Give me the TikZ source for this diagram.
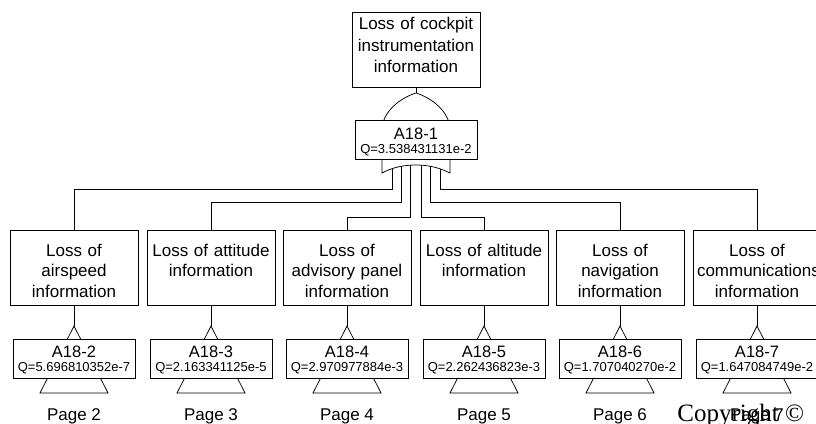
\documentclass[tikz,border=0pt]{standalone}
\usepackage{fontspec}
\setmainfont{Liberation Sans}
\newfontfamily\copyfont{Liberation Serif}
\usetikzlibrary{calc}

\begin{document}
\begin{tikzpicture}[x=1pt,y=-1pt,line width=0.75pt,
	ereignis/.style={draw, fill=white, text width=120pt, align=center, minimum width=128pt, minimum height=75pt, inner xsep=4pt, inner ysep=3pt, text height=23pt, text depth=46pt, font=\fontsize{17}{20.5}\selectfont},
	gatter/.style={draw, fill=white, text width=118pt, align=center, minimum width=122pt, minimum height=39pt, inner xsep=2pt, inner ysep=3pt, text height=15.5pt, text depth=17.5pt, font=\fontsize{13}{14}\selectfont},
	seite/.style={anchor=base, font=\fontsize{17}{20}\selectfont}] % E Ereignis, T Transfer
	\useasboundingbox (0,0) rectangle (816,423);
	\clip (0,0) rectangle (816,423);
	\node[ereignis, text height=14pt, text depth=55pt, font=\fontsize{17}{21.5}\selectfont] (E1) at (416,50) {Loss of cockpit\\instrumentation\\information};
	\node[ereignis] (E2) at (74,267.5) {Loss of\\airspeed\\information};
	\node[ereignis] (E3) at (211,267.5) {Loss of attitude\\information};
	\node[ereignis] (E4) at (347,267.5) {Loss of\\advisory panel\\information};
	\node[ereignis] (E5) at (484,267.5) {Loss of altitude\\information};
	\node[ereignis] (E6) at (620,267.5) {Loss of\\navigation\\information};
	\node[ereignis] (E7) at (757,267.5) {Loss of\\communications\\information};
	\coordinate (I1) at (392,160);
	\coordinate (I2) at (401,160);
	\coordinate (I3) at (410,160);
	\coordinate (I4) at (421,160);
	\coordinate (I5) at (430,160);
	\coordinate (I6) at (440,160);
	\draw (I1) -- ++(0,29) -| (E2.north);
	\draw (I2) -- ++(0,42) -| (E3.north);
	\draw (I3) -- ++(0,57) -| (E4.north);
	\draw (I4) -- ++(0,57) -| (E5.north);
	\draw (I5) -- ++(0,42) -| (E6.north);
	\draw (I6) -- ++(0,29) -| (E7.north);
	% Oder-Gatter
	\coordinate (G1top) at (416,93);
	\draw[fill=white] (G1top) .. controls (432,98) and (450,112) .. (450,130) -- (450,173) .. controls (438,167) and (427,165) .. (416,165) .. controls (405,165) and (393,167) .. (382,173) -- (382,130) .. controls (382,112) and (400,98) .. (G1top) -- cycle;
	\draw (E1.south) -- (G1top);
	\node[gatter, minimum width=120pt] (G1) at (416,140) {{\fontsize{16.5}{14}\selectfont A18-1}\\Q=3.538431131e-2};
	
	\coordinate (P2) at (74,326);
	\draw[fill=white] (P2) -- ++(-34,67) -- ++(68,0) -- cycle;
	\node[gatter] (T2) at (74,358.8) {{\fontsize{16.5}{14}\selectfont A18-2}\\Q=5.696810352e-7};
	\draw (E2.south) -- (P2);
	\node[seite] (S2) at (74,420) {Page 2};
	\coordinate (P3) at (211,326);
	\draw[fill=white] (P3) -- ++(-34,67) -- ++(68,0) -- cycle;
	\node[gatter] (T3) at (211,358.8) {{\fontsize{16.5}{14}\selectfont A18-3}\\Q=2.163341125e-5};
	\draw (E3.south) -- (P3);
	\node[seite] (S3) at (211,420) {Page 3};
	\coordinate (P4) at (347,326);
	\draw[fill=white] (P4) -- ++(-34,67) -- ++(68,0) -- cycle;
	\node[gatter] (T4) at (347,358.8) {{\fontsize{16.5}{14}\selectfont A18-4}\\Q=2.970977884e-3};
	\draw (E4.south) -- (P4);
	\node[seite] (S4) at (347,420) {Page 4};
	\coordinate (P5) at (484,326);
	\draw[fill=white] (P5) -- ++(-34,67) -- ++(68,0) -- cycle;
	\node[gatter] (T5) at (484,358.8) {{\fontsize{16.5}{14}\selectfont A18-5}\\Q=2.262436823e-3};
	\draw (E5.south) -- (P5);
	\node[seite] (S5) at (484,420) {Page 5};
	\coordinate (P6) at (620,326);
	\draw[fill=white] (P6) -- ++(-34,67) -- ++(68,0) -- cycle;
	\node[gatter] (T6) at (620,358.8) {{\fontsize{16.5}{14}\selectfont A18-6}\\Q=1.707040270e-2};
	\draw (E6.south) -- (P6);
	\node[seite] (S6) at (620,420) {Page 6};
	\coordinate (P7) at (757,326);
	\draw[fill=white] (P7) -- ++(-34,67) -- ++(68,0) -- cycle;
	\node[gatter] (T7) at (757,358.8) {{\fontsize{16.5}{14}\selectfont A18-7}\\Q=1.647084749e-2};
	\draw (E7.south) -- (P7);
	\node[anchor=base west, inner sep=0pt, font=\copyfont\fontsize{25}{25}\selectfont] (C) at (677,421) {Copyright ©};
	\node[seite] (S7) at (757,420) {Page 7};
\end{tikzpicture}
\end{document}
